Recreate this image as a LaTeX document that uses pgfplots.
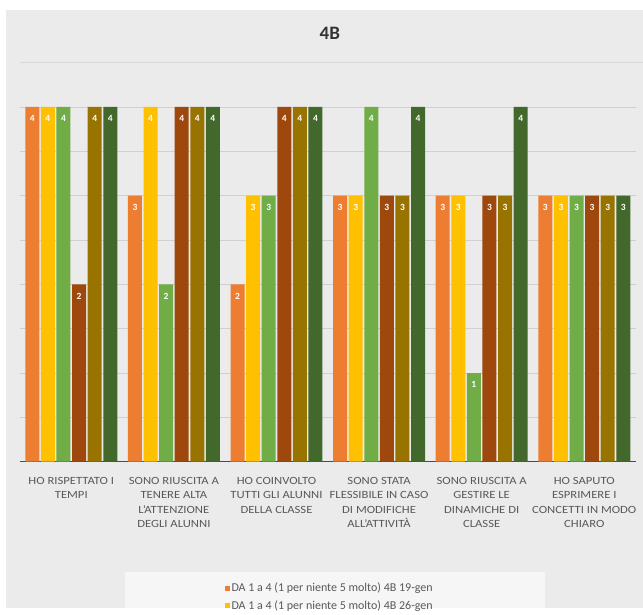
\documentclass[border=0pt]{standalone}
\usepackage{pgfplots}
\pgfplotsset{compat=1.18}
\usepackage{fontspec}
\setmainfont{Carlito}
\definecolor{cA}{HTML}{ED7D31}
\definecolor{cB}{HTML}{FFC000}
\definecolor{cC}{HTML}{70AD47}
\definecolor{cD}{HTML}{9E480E}
\definecolor{cE}{HTML}{997300}
\definecolor{cF}{HTML}{43682B}
\definecolor{bg}{HTML}{EBEBEB}
\definecolor{txt}{HTML}{595959}
\definecolor{grid}{HTML}{D0D0D0}
\begin{document}
\begin{tikzpicture}[x=1pt,y=1pt]
\fill[white] (0,0) rectangle (643,608);
\fill[bg] (6,0) rectangle (643,598);
\draw[gray!30, line width=0.8pt] (20,546) -- (643,546);
\fill[white!55!bg] (125,0) rectangle (545,36);
\node[font=\bfseries\fontsize{19}{22}\selectfont, text=black!80] at (330,575) {4B};
\begin{axis}[
  at={(20pt,146pt)}, anchor=south west,
  scale only axis, width=616pt, height=355pt,
  ybar=1.6pt, bar width=14pt,
  ymin=0, ymax=4, xmin=-0.5, xmax=5.5,
  ytick={0,0.5,...,4}, yticklabels={},
  ymajorgrids, grid style={draw=grid, line width=0.8pt},
  major tick length=0pt,
  axis x line*=bottom, axis y line*=left,
  y axis line style={draw=none},
  x axis line style={black!70, line width=1.3pt, -},
  /pgf/number format/assume math mode=true,
  xtick=data,
  xticklabels={{HO RISPETTATO I\\TEMPI},{SONO RIUSCITA A\\TENERE ALTA\\L'ATTENZIONE\\DEGLI ALUNNI},{HO COINVOLTO\\TUTTI GLI ALUNNI\\DELLA CLASSE},{SONO STATA\\FLESSIBILE IN CASO\\DI MODIFICHE\\ALL'ATTIVITÀ},{SONO RIUSCITA A\\GESTIRE LE\\DINAMICHE DI\\CLASSE},{HO SAPUTO\\ESPRIMERE I\\CONCETTI IN MODO\\CHIARO}},
  xticklabel style={align=center, text=txt, font=\fontsize{11}{14.5}\selectfont, xscale=1.15, yshift=-12pt},
  nodes near coords,
  every node near coord/.append style={anchor=north, yshift=-5pt, text=white, font=\bfseries\fontsize{9.5}{10}\selectfont},
  legend style={at={(0.503,-0.33)}, anchor=north, draw=none, fill=none,
    font=\fontsize{12}{13}\selectfont, text=txt, row sep=3pt, cells={anchor=west}},
  legend image code/.code={\fill[#1] (-2pt,-2.5pt) rectangle (3pt,2.5pt);},
]
\addplot[fill=cA, draw=none] coordinates {(0,4) (1,3) (2,2) (3,3) (4,3) (5,3)};
\addplot[fill=cB, draw=none] coordinates {(0,4) (1,4) (2,3) (3,3) (4,3) (5,3)};
\addplot[fill=cC, draw=none] coordinates {(0,4) (1,2) (2,3) (3,4) (4,1) (5,3)};
\addplot[fill=cD, draw=none] coordinates {(0,2) (1,4) (2,4) (3,3) (4,3) (5,3)};
\addplot[fill=cE, draw=none] coordinates {(0,4) (1,4) (2,4) (3,3) (4,3) (5,3)};
\addplot[fill=cF, draw=none] coordinates {(0,4) (1,4) (2,4) (3,4) (4,4) (5,3)};
\legend{DA 1 a 4 (1 per niente 5 molto) 4B 19-gen, DA 1 a 4 (1 per niente 5 molto) 4B 26-gen}
\end{axis}
\useasboundingbox (0,0) rectangle (643,608);
\end{tikzpicture}
\end{document}
